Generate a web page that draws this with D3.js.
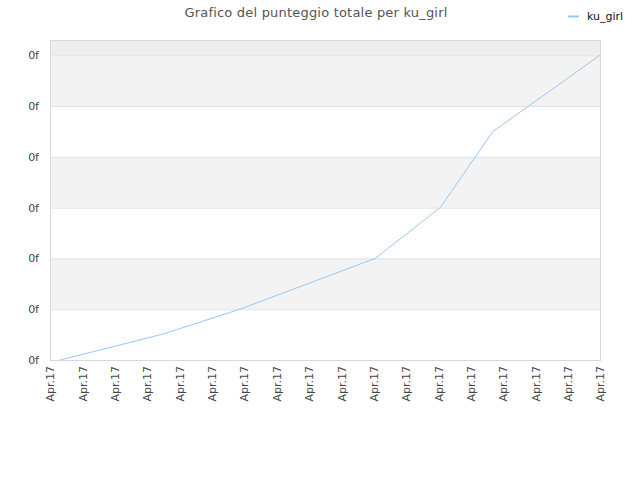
<!DOCTYPE html>
<html lang="it">
<head>
<meta charset="utf-8">
<title>Grafico del punteggio totale per ku_girl</title>
<script type="text/javascript" src="https://d3js.org/d3.v7.min.js"></script>
<style>
body { margin: 0; background: #ffffff; }
text { font-family: "DejaVu Sans", Verdana, sans-serif; }
.grid line { stroke: #e2e2e2; stroke-width: 1; }
</style>
</head>
<body>
<div id="container"></div>
<script type="text/javascript">
var w = 640;
var h = 480;

// data
var xLabels = ["Apr.17", "Apr.17", "Apr.17", "Apr.17", "Apr.17", "Apr.17",
  "Apr.17", "Apr.17", "Apr.17", "Apr.17", "Apr.17", "Apr.17",
  "Apr.17", "Apr.17", "Apr.17", "Apr.17", "Apr.17", "Apr.17"];
var yTicks = [0, 1, 2, 3, 4, 5, 6];
var yLabels = ["0f", "0f", "0f", "0f", "0f", "0f", "0f"];
// position of each point along the tick index, and its score
var pointPos = [0.31, 3.49, 5.87, 10.05, 12.06, 13.69, 17];
var scores = [0, 0.51, 1.0, 2.0, 3.0, 4.5, 6.0];
var seriesName = "ku_girl";

var margin = {top: 40, right: 40, bottom: 120, left: 50};
var iw = w - margin.left - margin.right;
var ih = h - margin.top - margin.bottom;

var svg = d3.select("div#container").append("svg")
  .attr("width", w).attr("height", h)
  .style("background-color", "#ffffff");

var x = d3.scaleLinear().domain([0, xLabels.length - 1]).range([0, iw]);
var y = d3.scaleLinear().domain([0, 6.3]).range([ih, 0]);

var g = svg.append("g").attr("transform", "translate(" + margin.left + "," + margin.top + ")");

// background bands
g.append("rect").attr("x", 0).attr("y", 0).attr("width", iw).attr("height", y(6))
  .attr("fill", "#eeeeee");
for (var i = 0; i < yTicks.length - 1; i++) {
  g.append("rect")
    .attr("x", 0).attr("y", y(yTicks[i + 1]))
    .attr("width", iw).attr("height", y(yTicks[i]) - y(yTicks[i + 1]))
    .attr("fill", i % 2 === 1 ? "#f3f3f3" : "#ffffff");
}

// horizontal grid
g.append("g").attr("class", "grid")
  .selectAll("line").data(yTicks).enter().append("line")
  .attr("x1", 0).attr("x2", iw)
  .attr("y1", function(d) { return y(d) + 0.5; })
  .attr("y2", function(d) { return y(d) + 0.5; });

// border
g.append("rect").attr("x", 0.5).attr("y", 0.5).attr("width", iw).attr("height", ih)
  .attr("fill", "none").attr("stroke", "#d8d8d8");

// y axis
var yAxis = d3.axisLeft(y).tickValues(yTicks)
  .tickFormat(function(d, i) { return yLabels[i]; })
  .tickSize(0).tickPadding(11);
g.append("g").call(yAxis)
  .call(function(s) { s.select(".domain").remove(); })
  .selectAll("text").style("font-size", "11px").attr("fill", "#444444");

// x axis
var xAxis = d3.axisBottom(x).tickValues(d3.range(xLabels.length))
  .tickFormat(function(d) { return xLabels[d]; })
  .tickSize(0);
g.append("g").attr("transform", "translate(0," + ih + ")").call(xAxis)
  .call(function(s) { s.select(".domain").remove(); })
  .selectAll("text")
  .style("font-size", "11px").attr("fill", "#444444")
  .attr("text-anchor", "end")
  .attr("transform", "rotate(-90)")
  .attr("x", -6).attr("y", 0).attr("dy", "0.35em");

// line
var line = d3.line()
  .x(function(d, i) { return x(pointPos[i]); })
  .y(function(d) { return y(d); });
g.append("path").datum(scores)
  .attr("fill", "none").attr("stroke", "#99c8f5").attr("stroke-width", 1)
  .attr("d", line);

// title
svg.append("text").attr("x", 316).attr("y", 17)
  .attr("text-anchor", "middle").style("font-size", "13px")
  .style("letter-spacing", "0.2px").attr("fill", "#555555")
  .text("Grafico del punteggio totale per " + seriesName);

// legend
svg.append("line").attr("x1", 568).attr("x2", 579).attr("y1", 16.5).attr("y2", 16.5)
  .attr("stroke", "#99c8f5").attr("stroke-width", 2);
svg.append("text").attr("x", 587).attr("y", 20)
  .style("font-size", "11px").attr("fill", "#111111").text(seriesName);
</script>
</body>
</html>
